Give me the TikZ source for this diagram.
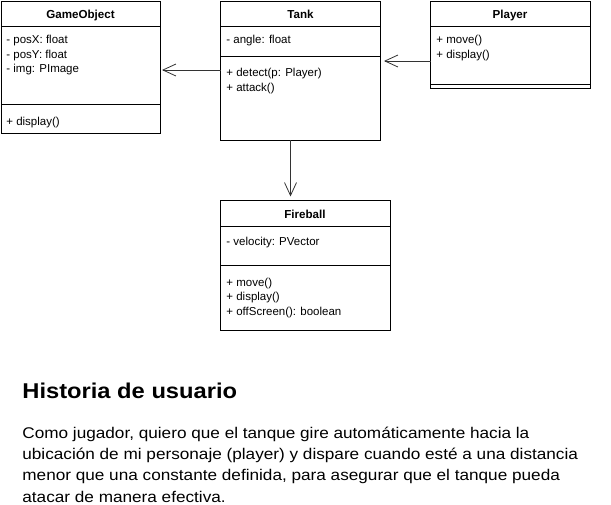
\documentclass[tikz,border=0pt]{standalone}
\usepackage{fontspec}
\setmainfont{Liberation Sans}
\newfontfamily\storyfont[FakeStretch=1.108]{Liberation Sans}
\usetikzlibrary{arrows.meta}

\tikzset{
  classbox/.style={draw, anchor=north west, inner sep=0pt, outer sep=0pt},
  classname/.style={font=\fontsize{11.6}{13}\selectfont\bfseries, anchor=base, inner sep=0pt},
  member/.style={font=\fontsize{11.5}{13}\selectfont, anchor=base west, inner sep=0pt},
  assoc/.style={-{Straight Barb[length=13pt,width=12pt]}, draw=black!80},
  storyline/.style={font=\storyfont\fontsize{15.5}{21}\selectfont, anchor=base west, inner sep=0pt}
}

\begin{document}
\begin{tikzpicture}[x=1pt,y=-1pt,line width=0.8pt]
\useasboundingbox (0,0) rectangle (611,504);

% GameObject
\node[classbox, minimum width=159pt, minimum height=132.5pt] (gameobject) at (1,1) {};
\node[classname] (gameobject-name) at (80.5,18) {GameObject};
\draw (gameobject.west |- 0,26) -- (gameobject.east |- 0,26);
\foreach \txt [count=\i] in {- posX: float, - posY: float, - img: PImage}
  \node[member] (gameobject-a\i) at (6,29+14.5*\i) {\txt};
\draw (gameobject.west |- 0,104) -- (gameobject.east |- 0,104);
\node[member] (gameobject-m1) at (6,125.5) {+ display()};

% Tank
\node[classbox, minimum width=160pt, minimum height=139pt] (tank) at (220.5,1) {};
\node[classname] (tank-name) at (300.5,18) {Tank};
\draw (tank.west |- 0,26) -- (tank.east |- 0,26);
\node[member] (tank-a1) at (226,43.5) {- angle: float};
\draw (tank.west |- 0,56) -- (tank.east |- 0,56);
\foreach \txt [count=\i] in {+ detect(p: Player), + attack()}
  \node[member] (tank-m\i) at (226,62+14.5*\i) {\txt};

% Player
\node[classbox, minimum width=159.5pt, minimum height=87pt] (player) at (430.5,1) {};
\node[classname] (player-name) at (510,18) {Player};
\draw (player.west |- 0,26) -- (player.east |- 0,26);
\foreach \txt [count=\i] in {+ move(), + display()}
  \node[member] (player-m\i) at (436,29+14.5*\i) {\txt};
\draw (player.west |- 0,84) -- (player.east |- 0,84);

% Fireball
\node[classbox, minimum width=169.5pt, minimum height=129.5pt] (fireball) at (220.5,200.5) {};
\node[classname] (fireball-name) at (305,218.5) {Fireball};
\draw (fireball.west |- 0,226.5) -- (fireball.east |- 0,226.5);
\node[member] (fireball-a1) at (226,245) {- velocity: PVector};
\draw (fireball.west |- 0,265) -- (fireball.east |- 0,265);
\foreach \txt [count=\i] in {+ move(), + display(), + offScreen(): boolean}
  \node[member] (fireball-m\i) at (226,271.5+14.5*\i) {\txt};

% associations
\draw[assoc] (tank.west |- 0,70) -- ([xshift=2pt]gameobject.east |- 0,70);
\draw[assoc] (player.west |- 0,61) -- ([xshift=3.5pt]tank.east |- 0,61);
\draw[assoc] (tank.south -| 290.5,0) -- ([yshift=4pt]fireball.north -| 290.5,0);

% user story
\node[font=\storyfont\fontsize{21.4}{24}\selectfont\bfseries, anchor=base west, inner sep=0pt] (story-title) at (22,398) {Historia de usuario};
\node[storyline] (story-1) at (22,438.5) {Como jugador, quiero que el tanque gire automáticamente hacia la};
\node[storyline] (story-2) at (22,459.7) {ubicación de mi personaje (player) y dispare cuando esté a una distancia};
\node[storyline] (story-3) at (22,480.9) {menor que una constante definida, para asegurar que el tanque pueda};
\node[storyline] (story-4) at (22,502.1) {atacar de manera efectiva.};
\end{tikzpicture}
\end{document}
